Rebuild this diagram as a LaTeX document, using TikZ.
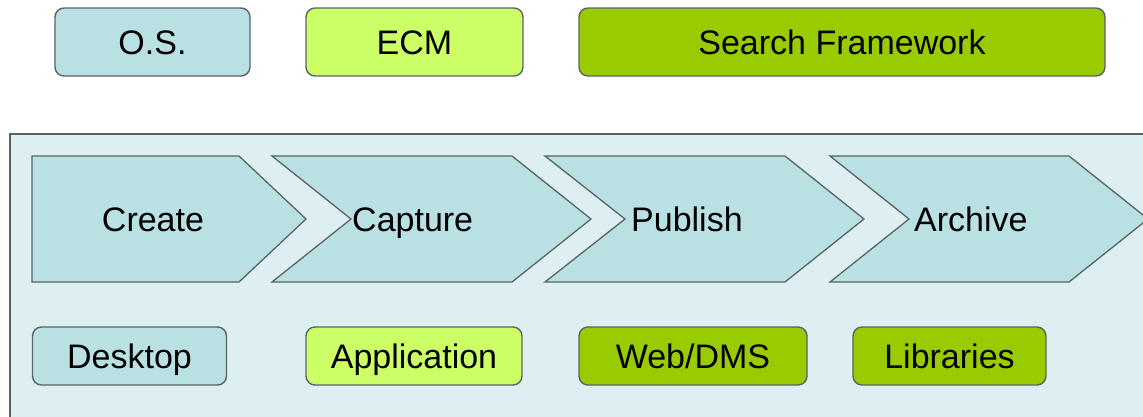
\documentclass[tikz,border=0pt]{standalone}
\usepackage{fontspec}
\setmainfont{Liberation Sans}
\usepackage{xcolor}
\usepackage{tikz}
\usetikzlibrary{calc}
\definecolor{paleblue}{HTML}{B9E0E3}
\definecolor{panelblue}{HTML}{DDEFF1}
\definecolor{limegreen}{HTML}{CCFF66}
\definecolor{olivegreen}{HTML}{99CC00}
\definecolor{edgegray}{HTML}{5A6464}
\tikzset{
    box/.style={draw=edgegray, line width=1.4pt, rounded corners=9pt,
        inner sep=0pt, text height=24.5pt, text depth=0pt,
        font=\fontsize{34}{40}\selectfont},
    topbox/.style={box, minimum height=68pt},
    lowbox/.style={box, minimum height=58pt},
    chevron/.style={draw=edgegray, line width=1.3pt, fill=paleblue},
    steplabel/.style={inner sep=0pt, text height=24.5pt, text depth=0pt,
        font=\fontsize{34}{40}\selectfont}
}

\begin{document}
\begin{tikzpicture}[x=1pt, y=-1pt]
        \useasboundingbox (0,0) rectangle (1143,416);
        \clip (0,0) rectangle (1143,416);

        % top row
        \node[topbox, fill=paleblue,   minimum width=195pt] (os)     at (152.5,42) {O.S.};
        \node[topbox, fill=limegreen,  minimum width=217pt] (ecm)    at (414.5,42) {ECM};
        \node[topbox, fill=olivegreen, minimum width=526pt] (search) at (842,42)   {Search Framework};

        % panel
        \draw[draw=edgegray, line width=1.4pt, fill=panelblue] (10,134) rectangle (1160,430);

        % process steps
        \draw[chevron] (32,156) -- (239,156) -- (306,219) -- (239,282) -- (32,282) -- cycle;
        \draw[chevron] (272,156) -- (512,156) -- (591,219) -- (512,282) -- (272,282) -- (351,219) -- cycle;
        \draw[chevron] (545,156) -- (785,156) -- (864,219) -- (785,282) -- (545,282) -- (625,219) -- cycle;
        \draw[chevron] (830,156) -- (1069,156) -- (1148,219) -- (1069,282) -- (830,282) -- (909,219) -- cycle;

        \node[steplabel] (create) at (153,219) {Create};
        \node[steplabel, anchor=west] (capture) at (352,219) {Capture};
        \node[steplabel, anchor=west] (publish) at (631,219) {Publish};
        \node[steplabel, anchor=west] (archive) at (914,219) {Archive};

        % bottom row
        \node[lowbox, fill=paleblue,   minimum width=194pt] (desktop) at (129.5,356) {Desktop};
        \node[lowbox, fill=limegreen,  minimum width=216pt] (app)     at (414,356)   {Application};
        \node[lowbox, fill=olivegreen, minimum width=228pt] (web)     at (693,356)   {Web/DMS};
        \node[lowbox, fill=olivegreen, minimum width=193pt] (libs)    at (949.5,356) {Libraries};
    \end{tikzpicture}
\end{document}
